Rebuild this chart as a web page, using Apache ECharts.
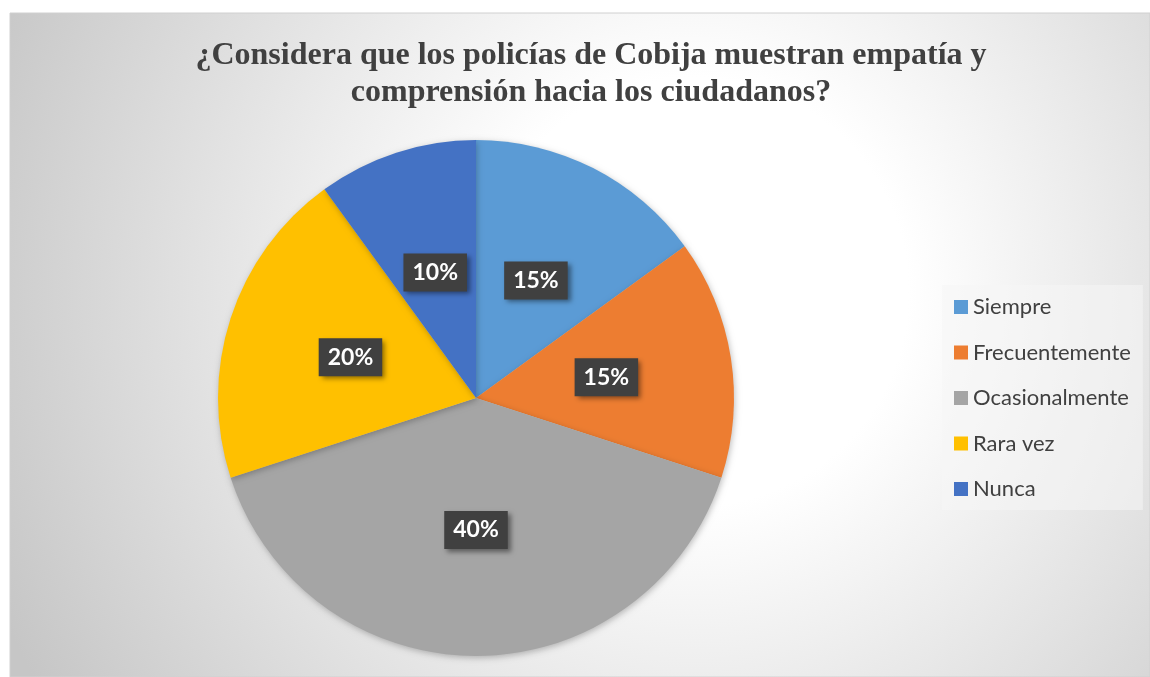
<!DOCTYPE html>
<html>
<head>
<meta charset="utf-8">
<script src="https://cdn.jsdelivr.net/npm/echarts@6/dist/echarts.min.js"></script>
<style>
  html, body { margin: 0; padding: 0; background: #fff; }
  #chart { width: 1150px; height: 677px; }
</style>
</head>
<body>
<div id="chart"></div>
<script>
const categories = ['Siempre', 'Frecuentemente', 'Ocasionalmente', 'Rara vez', 'Nunca']
const percents = [15, 15, 40, 20, 10]
const colors = ['#5b9bd5', '#ed7d31', '#a5a5a5', '#ffc000', '#4472c4']
const titleLines = [
  '¿Considera que los policías de Cobija muestran empatía y',
  'comprensión hacia los ciudadanos?'
]

const chart = echarts.init(document.getElementById('chart'))

const pieData = categories.map((name, i) => ({
  name,
  value: percents[i],
  itemStyle: { color: colors[i] }
}))

const option = {
  animation: false,
  graphic: [
    {
      type: 'rect',
      z: -10,
      shape: { x: 10, y: 13, width: 1140, height: 664 },
      style: {
        fill: new echarts.graphic.RadialGradient(0.6, 0.42, 1.15, [
          { offset: 0, color: '#ffffff' },
          { offset: 0.28, color: '#ffffff' },
          { offset: 1, color: '#c6c6c6' }
        ]),
        stroke: '#d0d0d0',
        lineWidth: 1
      }
    }
  ],
  title: {
    text: titleLines.join('\n'),
    left: 586,
    top: 32,
    textAlign: 'center',
    textStyle: {
      fontFamily: 'Liberation Serif',
      fontWeight: 'bold',
      fontSize: 32,
      lineHeight: 37,
      color: '#404040'
    }
  },
  legend: {
    orient: 'vertical',
    left: 942,
    top: 285,
    data: categories,
    icon: 'rect',
    itemWidth: 14,
    itemHeight: 14,
    itemGap: 23.5,
    padding: [11, 12, 10, 12],
    backgroundColor: 'rgba(245,245,245,0.55)',
    textStyle: {
      fontFamily: 'Lato',
      fontSize: 22,
      lineHeight: 22,
      color: '#404040'
    }
  },
  series: [
    {
      type: 'pie',
      center: [476, 398],
      radius: 258,
      startAngle: 90,
      clockwise: true,
      silent: true,
      itemStyle: {
        shadowBlur: 6,
        shadowColor: 'rgba(0,0,0,0.25)',
        shadowOffsetX: 1,
        shadowOffsetY: 2
      },
      label: {
        show: true,
        position: 'inside',
        formatter: '{c}%',
        fontFamily: 'Lato',
        fontWeight: 'bold',
        fontSize: 23,
        color: '#ffffff',
        backgroundColor: '#404040',
        padding: [8, 9, 7, 9],
        shadowBlur: 5,
        shadowColor: 'rgba(0,0,0,0.45)',
        shadowOffsetX: 3,
        shadowOffsetY: 3
      },
      labelLine: { show: false },
      data: pieData
    }
  ]
}

chart.setOption(option)
</script>
</body>
</html>
